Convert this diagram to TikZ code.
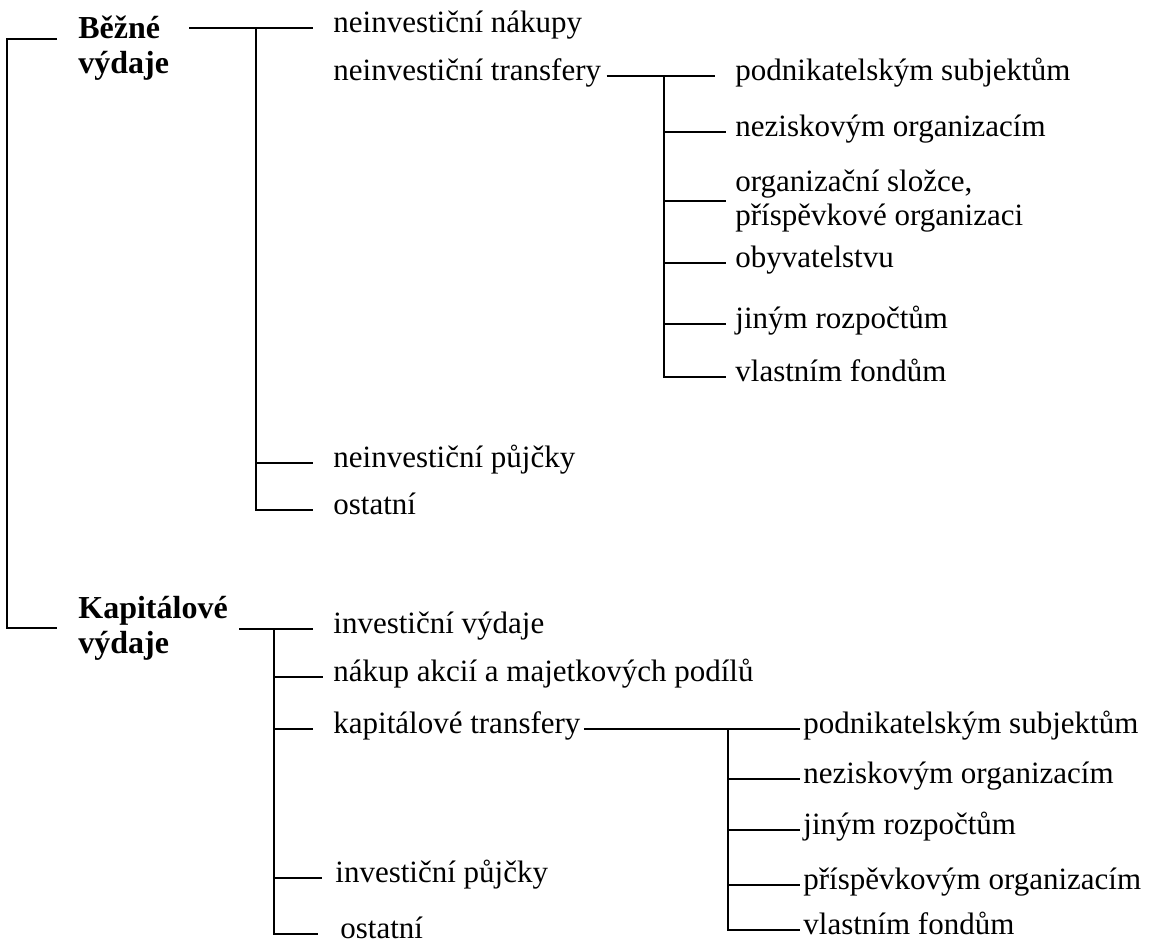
\documentclass[tikz,border=0pt]{standalone}
\usepackage{fontspec}
\setmainfont{Liberation Serif}
\usetikzlibrary{positioning}

\begin{document}
\begin{tikzpicture}[x=0.5pt,y=-0.5pt,
          hlavni/.style={font=\fontsize{16}{17.5}\selectfont\bfseries,align=left,inner sep=0pt,anchor=west},
          polozka/.style={font=\fontsize{15.5}{17}\selectfont,inner sep=0pt,anchor=west,text height=0.62em,text depth=0.2em},
          dvouradek/.style={font=\fontsize{15.5}{17}\selectfont,align=left,inner sep=0pt,anchor=west},
          vetev/.style={draw,line width=0.6pt}
        ]
        \useasboundingbox (0,0) rectangle (1160,949);

        %labels
        \node[hlavni] (B) at (78,48) {Běžné\\výdaje};
        \node[hlavni] (K) at (78,628) {Kapitálové\\výdaje};
        \coordinate (root) at (7,334);

        %bezne vydaje
        \node[polozka] (B1) at (333,28) {neinvestiční nákupy};
        \node[polozka] (B2) at (333,76) {neinvestiční transfery};
        \node[polozka] (B3) at (333,463) {neinvestiční půjčky};
        \node[polozka] (B4) at (333,510) {ostatní};
        \coordinate (jB) at (256,28);

        %neinvesticni transfery
        \node[polozka] (B21) at (735,76) {podnikatelským subjektům};
        \node[polozka] (B22) at (735,132) {neziskovým organizacím};
        \node[dvouradek] (B23) at (735,201) {organizační složce,\\příspěvkové organizaci};
        \node[polozka] (B24) at (735,263) {obyvatelstvu};
        \node[polozka] (B25) at (735,324) {jiným rozpočtům};
        \node[polozka] (B26) at (735,377) {vlastním fondům};
        \coordinate (jT) at (664,76);

        %kapitalove vydaje
        \node[polozka] (K1) at (333,629) {investiční výdaje};
        \node[polozka] (K2) at (333,677) {nákup akcií a majetkových podílů};
        \node[polozka] (K3) at (333,729) {kapitálové transfery};
        \node[polozka] (K4) at (335,878) {investiční půjčky};
        \node[polozka] (K5) at (340,934) {ostatní};
        \coordinate (jK) at (274,629);

        %kapitalove transfery
        \node[polozka] (K31) at (803,729) {podnikatelským subjektům};
        \node[polozka] (K32) at (803,779) {neziskovým organizacím};
        \node[polozka] (K33) at (803,830) {jiným rozpočtům};
        \node[polozka] (K34) at (803,885) {příspěvkovým organizacím};
        \node[polozka] (K35) at (803,930) {vlastním fondům};
        \coordinate (jKT) at (728,729);

        \path[vetev,shorten <=10.5pt,shorten >=10.5pt] ([yshift=4.5pt]B.west) -| (root) |- (K.west);

        \path[vetev,shorten <=10pt,shorten >=10pt] (B.east |- B1.west) -- (B1.west);
        \path[vetev,shorten >=10pt] (jB) |- (B3.west);
        \path[vetev,shorten >=10pt] (jB) |- (B4.west);

        \path[vetev,shorten <=2.5pt,shorten >=10pt] (B2.east) -- (B21.west);
        \foreach \n in {B22,B23,B24,B25,B26}
          \path[vetev,shorten >=4.5pt] (jT) |- (\n.west);

        \path[vetev,shorten <=5.5pt,shorten >=10pt] (K.east |- K1.west) -- (K1.west);
        \path[vetev,shorten >=5pt] (jK) |- (K2.west);
        \path[vetev,shorten >=10pt] (jK) |- (K3.west);
        \path[vetev,shorten >=6.5pt] (jK) |- (K4.west);
        \path[vetev,shorten >=11pt] (jK) |- (K5.west);

        \path[vetev,shorten <=1.5pt,shorten >=1.5pt] (K3.east) -- (K31.west);
        \foreach \n in {K32,K33,K34,K35}
          \path[vetev,shorten >=1.5pt] (jKT) |- (\n.west);
    \end{tikzpicture}
\end{document}
